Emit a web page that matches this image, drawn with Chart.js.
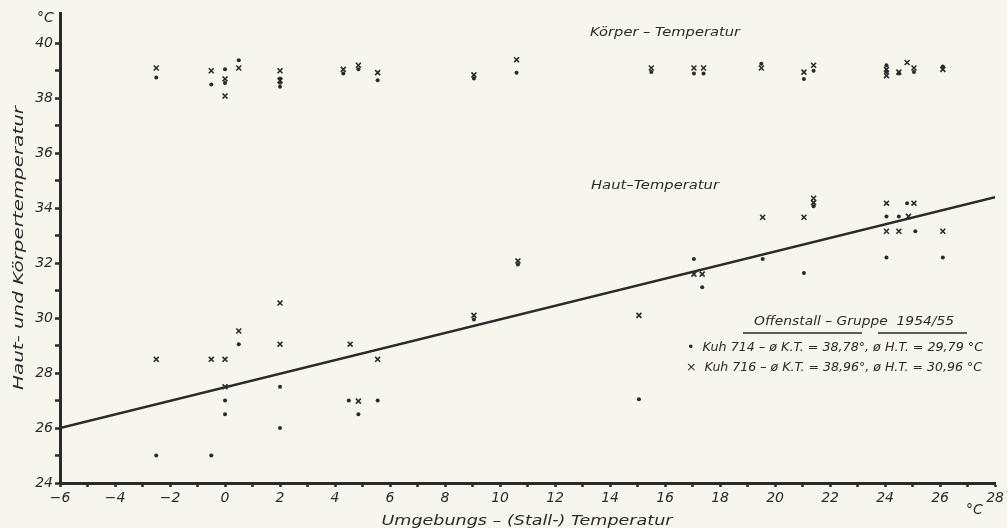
<!DOCTYPE html>
<html lang="de">
<head>
  <meta charset="UTF-8" />
  <title>Haut- und Körpertemperatur</title>
  <script src="https://cdn.jsdelivr.net/npm/chart.js"></script>
  <style>
    html, body { margin: 0; padding: 0; background: #f7f6ee; }
    canvas { display: block; }
  </style>
</head>
<body>
  <canvas id="chart" width="1007" height="528"></canvas>

  <script>
    // Umgebungs- (Stall-) Temperatur, Achsen
    const xTicks = [-6,-5,-4,-3,-2,-1,0,1,2,3,4,5,6,7,8,9,10,11,12,13,14,15,16,17,18,19,20,21,22,23,24,25,26,27,28];
    const yTicks = [24,25,26,27,28,29,30,31,32,33,34,35,36,37,38,39,40];

    // Kuh 714 (Punkte) - Körpertemperatur [x, y]
    const kuh714Koerper = [
      [-2.5, 38.75], [-0.5, 38.5], [0, 39.05], [0, 38.55], [0.5, 39.38],
      [2, 38.72], [2, 38.56], [2, 38.42], [4.3, 38.9], [4.85, 39.05],
      [5.55, 38.65], [9.05, 38.72], [10.6, 38.93], [15.5, 38.95], [17.05, 38.9],
      [17.4, 38.9], [19.5, 39.25], [21.05, 38.7], [21.4, 39.0], [24.05, 39.2],
      [24.05, 38.95], [24.5, 38.9], [25.05, 38.95], [26.1, 39.15]
    ];
    // Kuh 716 (Kreuze) - Körpertemperatur
    const kuh716Koerper = [
      [-2.5, 39.1], [-0.5, 39.0], [0, 38.7], [0, 38.08], [0.5, 39.1],
      [2, 39.0], [2, 38.64], [4.3, 39.05], [4.85, 39.2], [5.55, 38.93],
      [9.05, 38.85], [10.6, 39.4], [15.5, 39.1], [17.05, 39.1], [17.4, 39.1],
      [19.5, 39.1], [21.05, 38.95], [21.4, 39.2], [24.05, 39.05], [24.05, 38.82],
      [24.5, 38.95], [24.8, 39.3], [25.05, 39.1], [26.1, 39.05]
    ];

    // Kuh 714 (Punkte) - Hauttemperatur
    const kuh714Haut = [
      [-2.5, 25.0], [-0.5, 25.0], [0, 27.0], [0, 26.5], [0.5, 29.05],
      [2, 27.5], [2, 26.0], [4.5, 27.0], [4.85, 26.5], [5.55, 27.0],
      [9.05, 29.95], [10.65, 31.95], [15.05, 27.05], [17.05, 32.15], [17.35, 31.12],
      [19.55, 32.15], [21.05, 31.64], [21.4, 34.07], [24.05, 33.7], [24.05, 32.2],
      [24.5, 33.7], [24.8, 34.18], [25.1, 33.16], [26.1, 32.2]
    ];
    // Kuh 716 (Kreuze) - Hauttemperatur
    const kuh716Haut = [
      [-2.5, 28.5], [-0.5, 28.5], [0, 28.5], [0, 27.5], [0.5, 29.53],
      [2, 30.55], [2, 29.05], [4.55, 29.05], [4.85, 26.98], [5.55, 28.5],
      [9.05, 30.1], [10.65, 32.08], [15.05, 30.1], [17.05, 31.6], [17.35, 31.6],
      [19.55, 33.67], [21.05, 33.67], [21.4, 34.36], [21.4, 34.2], [24.05, 34.18],
      [24.05, 33.16], [24.5, 33.16], [24.85, 33.7], [25.05, 34.18], [26.1, 33.16]
    ];

    // Ausgleichsgerade Hauttemperatur
    const regLineX = [-6, 28];
    const regLineY = [26.0, 34.4];

    const ink = '#2a2a2a';
    const fontFamily = '"DejaVu Sans", sans-serif';
    const pts = arr => arr.map(([x, y]) => ({ x, y }));
    const fmt = v => (v < 0 ? '\u2212' + Math.abs(v) : String(v));

    const dotStyle = { pointStyle: 'circle', pointRadius: 2, backgroundColor: ink, borderColor: ink, borderWidth: 0 };
    const crossStyle = { pointStyle: 'crossRot', pointRadius: 3.5, borderColor: ink, borderWidth: 1.6 };

    function drawText(ctx, str, x, y, o) {
      ctx.save();
      ctx.font = o.font;
      ctx.fillStyle = ink;
      ctx.textBaseline = 'middle';
      ctx.textAlign = 'left';
      ctx.translate(x, y);
      if (o.rotate) ctx.rotate(o.rotate);
      const w = ctx.measureText(str).width;
      let sx = 1;
      if (o.width) sx = o.width / w;
      ctx.scale(sx, 1);
      ctx.fillText(str, o.center ? -w / 2 : 0, 0);
      ctx.restore();
    }

    const annotations = {
      id: 'annotations',
      afterDraw(chart) {
        const ctx = chart.ctx;
        const f = (s) => 'italic ' + s + 'px ' + fontFamily;
        drawText(ctx, '°C', 37, 18, { font: f(14) });
        drawText(ctx, 'Körper – Temperatur', 665, 33, { font: f(13), center: true, width: 150 });
        drawText(ctx, 'Haut–Temperatur', 655, 186, { font: f(13), center: true, width: 128 });
        drawText(ctx, 'Haut- und Körpertemperatur', 19, 248, { font: f(14), center: true, rotate: -Math.PI / 2, width: 284 });
        drawText(ctx, 'Umgebungs – (Stall-) Temperatur', 527, 521, { font: f(14), center: true, width: 291 });
        drawText(ctx, '°C', 966, 510, { font: f(14) });

        drawText(ctx, 'Offenstall – Gruppe  1954/55', 854, 322, { font: f(13), center: true, width: 200 });
        ctx.save();
        ctx.strokeStyle = ink;
        ctx.lineWidth = 1.3;
        ctx.beginPath();
        ctx.moveTo(743, 333); ctx.lineTo(862, 333);
        ctx.moveTo(878, 333); ctx.lineTo(967, 333);
        ctx.stroke();
        ctx.restore();
        drawText(ctx, '•  Kuh 714 – ø K.T. = 38,78°, ø H.T. = 29,79 °C', 687, 348, { font: f(12), width: 296 });
        drawText(ctx, '×  Kuh 716 – ø K.T. = 38,96°, ø H.T. = 30,96 °C', 686, 368, { font: f(12), width: 296 });
      }
    };

    new Chart(document.getElementById('chart'), {
      type: 'scatter',
      data: {
        datasets: [
          { label: 'Kuh 714 K.T.', data: pts(kuh714Koerper), ...dotStyle },
          { label: 'Kuh 716 K.T.', data: pts(kuh716Koerper), ...crossStyle },
          { label: 'Kuh 714 H.T.', data: pts(kuh714Haut), ...dotStyle },
          { label: 'Kuh 716 H.T.', data: pts(kuh716Haut), ...crossStyle },
          {
            type: 'line',
            label: 'Gerade',
            data: regLineX.map((x, i) => ({ x, y: regLineY[i] })),
            borderColor: ink, borderWidth: 2.4, pointRadius: 0, fill: false
          }
        ]
      },
      options: {
        responsive: false,
        animation: false,
        layout: { padding: { top: 13, right: 2, left: 0, bottom: 0 } },
        plugins: { legend: { display: false }, tooltip: { enabled: false } },
        scales: {
          x: {
            type: 'linear', min: -6, max: 28,
            afterBuildTicks: s => { s.ticks = xTicks.map(v => ({ value: v })); },
            afterFit: s => { s.height = 45; },
            ticks: {
              autoSkip: false, maxRotation: 0, padding: 3, color: ink,
              font: { family: fontFamily, style: 'italic', size: 14 },
              callback: v => (v % 2 === 0 ? fmt(v) : '')
            },
            grid: { drawOnChartArea: false, tickLength: 4, tickWidth: 2.5, color: ink },
            border: { display: true, width: 3, color: ink }
          },
          y: {
            type: 'linear', min: 24, max: 41.1,
            afterBuildTicks: s => { s.ticks = yTicks.map(v => ({ value: v })); },
            afterFit: s => { s.width = 60; },
            ticks: {
              autoSkip: false, padding: 2, color: ink,
              font: { family: fontFamily, style: 'italic', size: 14 },
              callback: v => (v % 2 === 0 ? fmt(v) : '')
            },
            grid: { drawOnChartArea: false, tickLength: 5, tickWidth: 2.5, color: ink },
            border: { display: true, width: 3, color: ink }
          }
        }
      },
      plugins: [annotations]
    });
  </script>
</body>
</html>
